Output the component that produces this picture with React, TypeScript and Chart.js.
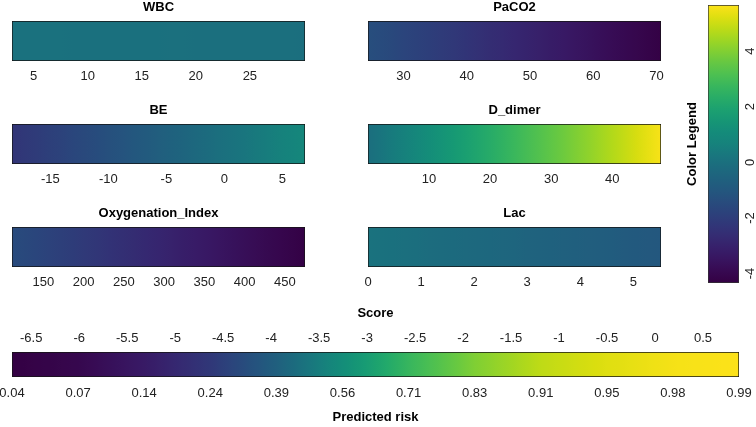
import React, { useEffect, useRef } from 'react';
import { Chart, registerables } from 'chart.js';

Chart.register(...registerables);

const FONT = '"Liberation Sans", Arial, Helvetica, sans-serif';
const TICK_COLOR = '#222222';
const TITLE_COLOR = '#000000';

// Shared colour scale for the predictor strips (score contribution)
const legendRange = [-4.34, 5.66];
const legendTicks = [-4, -2, 0, 2, 4];

// Predictor strips: covariate values at the strip ends and their score contribution
const wbcValues = [3.0, 30.1];
const wbcScores = [0.05, -0.05];
const wbcTicks = [5, 10, 15, 20, 25];

const paco2Values = [24.4, 70.7];
const paco2Scores = [-1.35, -4.3];
const paco2Ticks = [30, 40, 50, 60, 70];

const beValues = [-18.3, 6.94];
const beScores = [-2.35, 0.9];
const beTicks = [-15, -10, -5, 0, 5];

const ddimerValues = [0, 48];
const ddimerScores = [-0.05, 5.6];
const ddimerTicks = [10, 20, 30, 40];

const oxyValues = [111, 475];
const oxyScores = [-1.45, -4.3];
const oxyTicks = [150, 200, 250, 300, 350, 400, 450];

const lacValues = [0, 5.52];
const lacScores = [0.1, -1.0];
const lacTicks = [0, 1, 2, 3, 4, 5];

// Total score bar and the predicted risk read-out beneath it
const scoreRange = [-6.7, 0.875];
const scoreTicks = [-6.5, -6, -5.5, -5, -4.5, -4, -3.5, -3, -2.5, -2, -1.5, -1, -0.5, 0, 0.5];
const riskLabels = ['0.04', '0.07', '0.14', '0.24', '0.39', '0.56', '0.71', '0.83', '0.91', '0.95', '0.98', '0.99'];

// viridis colour map, sampled every 0.05 (rendered with a slightly deeper tone curve)
const VIRIDIS = [
  '#440154', '#471365', '#482475', '#463480', '#414487', '#3b528b', '#355f8d',
  '#2f6c8e', '#2a788e', '#25848e', '#21918c', '#1e9c89', '#22a884', '#2fb47c',
  '#44bf70', '#5ec962', '#7ad151', '#9bd93c', '#bddf26', '#dfe318', '#fde725',
];
const TONE = 1.2;

function hexToRgb(h: string) {
  const n = parseInt(h.slice(1), 16);
  return [(n >> 16) & 255, (n >> 8) & 255, n & 255].map((c) => 255 * Math.pow(c / 255, TONE));
}
const VIRIDIS_RGB = VIRIDIS.map(hexToRgb);

function viridis(t: number) {
  const c = Math.min(1, Math.max(0, t)) * (VIRIDIS_RGB.length - 1);
  const i = Math.min(VIRIDIS_RGB.length - 2, Math.floor(c));
  const f = c - i;
  const a = VIRIDIS_RGB[i];
  const b = VIRIDIS_RGB[i + 1];
  const m = (k: number) => Math.round(a[k] + (b[k] - a[k]) * f);
  return `rgb(${m(0)},${m(1)},${m(2)})`;
}

// Canvas gradient along a scale: colour stops follow the score values at the given positions
function scoreGradient(chart: any, axisId: string, xs: number[], vs: number[], lo: number, hi: number) {
  const area = chart.chartArea;
  const scale = chart.scales[axisId];
  if (!area || !scale) return viridis(0.5);
  const p0 = scale.getPixelForValue(xs[0]);
  const p1 = scale.getPixelForValue(xs[xs.length - 1]);
  const g = scale.isHorizontal()
    ? chart.ctx.createLinearGradient(p0, 0, p1, 0)
    : chart.ctx.createLinearGradient(0, p0, 0, p1);
  const steps = 24;
  for (let i = 0; i < xs.length - 1; i++) {
    for (let k = 0; k <= steps; k++) {
      const t = k / steps;
      const x = xs[i] + (xs[i + 1] - xs[i]) * t;
      const v = vs[i] + (vs[i + 1] - vs[i]) * t;
      const off = (scale.getPixelForValue(x) - p0) / (p1 - p0);
      g.addColorStop(Math.min(1, Math.max(0, off)), viridis((v - lo) / (hi - lo)));
    }
  }
  return g;
}

// Score bar gradient: coloured by the predicted risk shown at each read-out position
function riskGradient(chart: any) {
  const area = chart.chartArea;
  const scale = chart.scales.x2;
  if (!area || !scale) return viridis(0.5);
  const risks = riskLabels.map(Number);
  const lo = risks[0];
  const hi = risks[risks.length - 1];
  const p0 = scale.getPixelForTick(0);
  const p1 = scale.getPixelForTick(risks.length - 1);
  const g = chart.ctx.createLinearGradient(p0, 0, p1, 0);
  const steps = 12;
  for (let i = 0; i < risks.length - 1; i++) {
    const a = scale.getPixelForTick(i);
    const b = scale.getPixelForTick(i + 1);
    for (let k = 0; k <= steps; k++) {
      const t = k / steps;
      const r = risks[i] + (risks[i + 1] - risks[i]) * t;
      const off = (a + (b - a) * t - p0) / (p1 - p0);
      g.addColorStop(Math.min(1, Math.max(0, off)), viridis((r - lo) / (hi - lo)));
    }
  }
  return g;
}

const tickFont = { family: FONT, size: 13 };
const titleFont = { family: FONT, size: 13, weight: 'bold' as const, lineHeight: 1.2 };

function fixedTicks(values: number[]) {
  return (scale: any) => {
    scale.ticks = values.map((value) => ({ value }));
  };
}

type StripProps = {
  title: string;
  values: number[];
  scores: number[];
  ticks: number[];
  left: number;
  top: number;
};

const STRIP_W = 293;
const STRIP_H = 40;

function StripPanel({ title, values, scores, ticks, left, top }: StripProps) {
  const ref = useRef<HTMLCanvasElement>(null);
  useEffect(() => {
    const chart = new Chart(ref.current as HTMLCanvasElement, {
      type: 'bar',
      data: {
        labels: [title],
        datasets: [
          {
            data: [[values[0], values[values.length - 1]]] as any,
            backgroundColor: (c: any) => scoreGradient(c.chart, 'x', values, scores, legendRange[0], legendRange[1]),
            borderColor: '#141414',
            borderWidth: 1,
            borderSkipped: false,
            barPercentage: 1,
            categoryPercentage: 1,
          },
        ],
      },
      options: {
        indexAxis: 'y',
        responsive: false,
        animation: false,
        devicePixelRatio: 1,
        layout: { padding: { left: 12, right: 12, top: 0, bottom: 0 } },
        plugins: {
          legend: { display: false },
          tooltip: { enabled: false },
          title: {
            display: true,
            text: title,
            color: TITLE_COLOR,
            font: titleFont,
            padding: { top: 0, bottom: 5.4 },
          },
        },
        scales: {
          x: {
            type: 'linear',
            min: values[0],
            max: values[values.length - 1],
            grid: { display: false, drawTicks: false },
            border: { display: false },
            afterBuildTicks: fixedTicks(ticks),
            afterFit: (s: any) => {
              s.height = 30;
              s.paddingLeft = 0;
              s.paddingRight = 0;
            },
            ticks: {
              padding: 8,
              color: TICK_COLOR,
              font: tickFont,
              autoSkip: false,
              maxRotation: 0,
              callback: (v: any) => String(v),
            },
          },
          y: { display: false },
        },
      } as any,
    });
    return () => chart.destroy();
  }, []);
  const w = STRIP_W + 24;
  const h = 21 + STRIP_H + 30;
  return (
    <div style={{ position: 'absolute', left: left - 12, top: top - 21, width: w, height: h }}>
      <canvas ref={ref} width={w} height={h} style={{ width: w, height: h, display: 'block' }} />
    </div>
  );
}

function ColorLegend() {
  const ref = useRef<HTMLCanvasElement>(null);
  useEffect(() => {
    const chart = new Chart(ref.current as HTMLCanvasElement, {
      type: 'bar',
      data: {
        labels: [''],
        datasets: [
          {
            data: [[legendRange[0], legendRange[1]]] as any,
            backgroundColor: (c: any) => scoreGradient(c.chart, 'y', legendRange, legendRange, legendRange[0], legendRange[1]),
            borderColor: '#333333',
            borderWidth: 1,
            borderSkipped: false,
            barPercentage: 1,
            categoryPercentage: 1,
            yAxisID: 'y',
          },
        ],
      },
      options: {
        responsive: false,
        animation: false,
        devicePixelRatio: 1,
        layout: { padding: { left: 0, right: 0, top: 5, bottom: 7 } },
        plugins: { legend: { display: false }, tooltip: { enabled: false } },
        scales: {
          x: { display: false },
          y: {
            type: 'linear',
            position: 'right',
            min: legendRange[0],
            max: legendRange[1],
            grid: { display: false, drawTicks: false },
            border: { display: false },
            afterBuildTicks: fixedTicks(legendTicks),
            afterFit: (s: any) => {
              s.width = 17;
              s.paddingTop = 0;
              s.paddingBottom = 0;
            },
            ticks: {
              minRotation: 90,
              maxRotation: 90,
              crossAlign: 'center',
              padding: 6,
              color: TICK_COLOR,
              font: tickFont,
              callback: (v: any) => String(v),
            },
          },
          y2: {
            type: 'linear',
            position: 'left',
            min: legendRange[0],
            max: legendRange[1],
            grid: { display: false, drawTicks: false },
            border: { display: false },
            ticks: { display: false },
            title: {
              display: true,
              text: 'Color Legend',
              color: TITLE_COLOR,
              font: titleFont,
              padding: { top: 5, bottom: 0 },
            },
            afterFit: (s: any) => {
              s.width = 28;
              s.paddingTop = 0;
              s.paddingBottom = 0;
            },
          },
        },
      } as any,
    });
    return () => chart.destroy();
  }, []);
  return (
    <div style={{ position: 'absolute', left: 680, top: 0, width: 76, height: 290 }}>
      <canvas ref={ref} width={76} height={290} style={{ width: 76, height: 290, display: 'block' }} />
    </div>
  );
}

function ScoreBar() {
  const ref = useRef<HTMLCanvasElement>(null);
  useEffect(() => {
    const chart = new Chart(ref.current as HTMLCanvasElement, {
      type: 'bar',
      data: {
        labels: [''],
        datasets: [
          {
            data: [[scoreRange[0], scoreRange[1]]] as any,
            backgroundColor: (c: any) => riskGradient(c.chart),
            borderColor: '#141414',
            borderWidth: 1,
            borderSkipped: false,
            barPercentage: 1,
            categoryPercentage: 1,
            xAxisID: 'x',
            yAxisID: 'y',
          },
        ],
      },
      options: {
        indexAxis: 'y',
        responsive: false,
        animation: false,
        devicePixelRatio: 1,
        layout: { padding: { left: 12, right: 17, top: 0, bottom: 0 } },
        plugins: { legend: { display: false }, tooltip: { enabled: false } },
        scales: {
          x: {
            type: 'linear',
            position: 'top',
            min: scoreRange[0],
            max: scoreRange[1],
            grid: { display: false, drawTicks: false },
            border: { display: false },
            afterBuildTicks: fixedTicks(scoreTicks),
            afterFit: (s: any) => {
              s.height = 62;
              s.paddingLeft = 0;
              s.paddingRight = 0;
            },
            ticks: {
              padding: 5.5,
              color: TICK_COLOR,
              font: tickFont,
              autoSkip: false,
              maxRotation: 0,
              callback: (v: any) => String(v),
            },
            title: {
              display: true,
              text: 'Score',
              color: TITLE_COLOR,
              font: titleFont,
              padding: { top: 16, bottom: 0 },
            },
          },
          x2: {
            type: 'category',
            position: 'bottom',
            labels: riskLabels,
            offset: false,
            grid: { display: false, drawTicks: false },
            border: { display: false },
            afterFit: (s: any) => {
              s.height = 50;
              s.paddingLeft = 0;
              s.paddingRight = 0;
            },
            ticks: {
              padding: 9,
              color: TICK_COLOR,
              font: tickFont,
              autoSkip: false,
              maxRotation: 0,
            },
            title: {
              display: true,
              text: 'Predicted risk',
              color: TITLE_COLOR,
              font: titleFont,
              padding: { top: 0, bottom: 2 },
            },
          },
          y: { display: false },
        },
      } as any,
    });
    return () => chart.destroy();
  }, []);
  return (
    <div style={{ position: 'absolute', left: 0, top: 290, width: 756, height: 137 }}>
      <canvas ref={ref} width={756} height={137} style={{ width: 756, height: 137, display: 'block' }} />
    </div>
  );
}

export default function App() {
  return (
    <div style={{ position: 'absolute', left: 0, top: 0, width: 756, height: 427, background: '#ffffff', overflow: 'hidden' }}>
      <StripPanel title="WBC" values={wbcValues} scores={wbcScores} ticks={wbcTicks} left={12} top={21} />
      <StripPanel title="PaCO2" values={paco2Values} scores={paco2Scores} ticks={paco2Ticks} left={368} top={21} />
      <StripPanel title="BE" values={beValues} scores={beScores} ticks={beTicks} left={12} top={124} />
      <StripPanel title="D_dimer" values={ddimerValues} scores={ddimerScores} ticks={ddimerTicks} left={368} top={124} />
      <StripPanel title="Oxygenation_Index" values={oxyValues} scores={oxyScores} ticks={oxyTicks} left={12} top={227} />
      <StripPanel title="Lac" values={lacValues} scores={lacScores} ticks={lacTicks} left={368} top={227} />
      <ColorLegend />
      <ScoreBar />
    </div>
  );
}
